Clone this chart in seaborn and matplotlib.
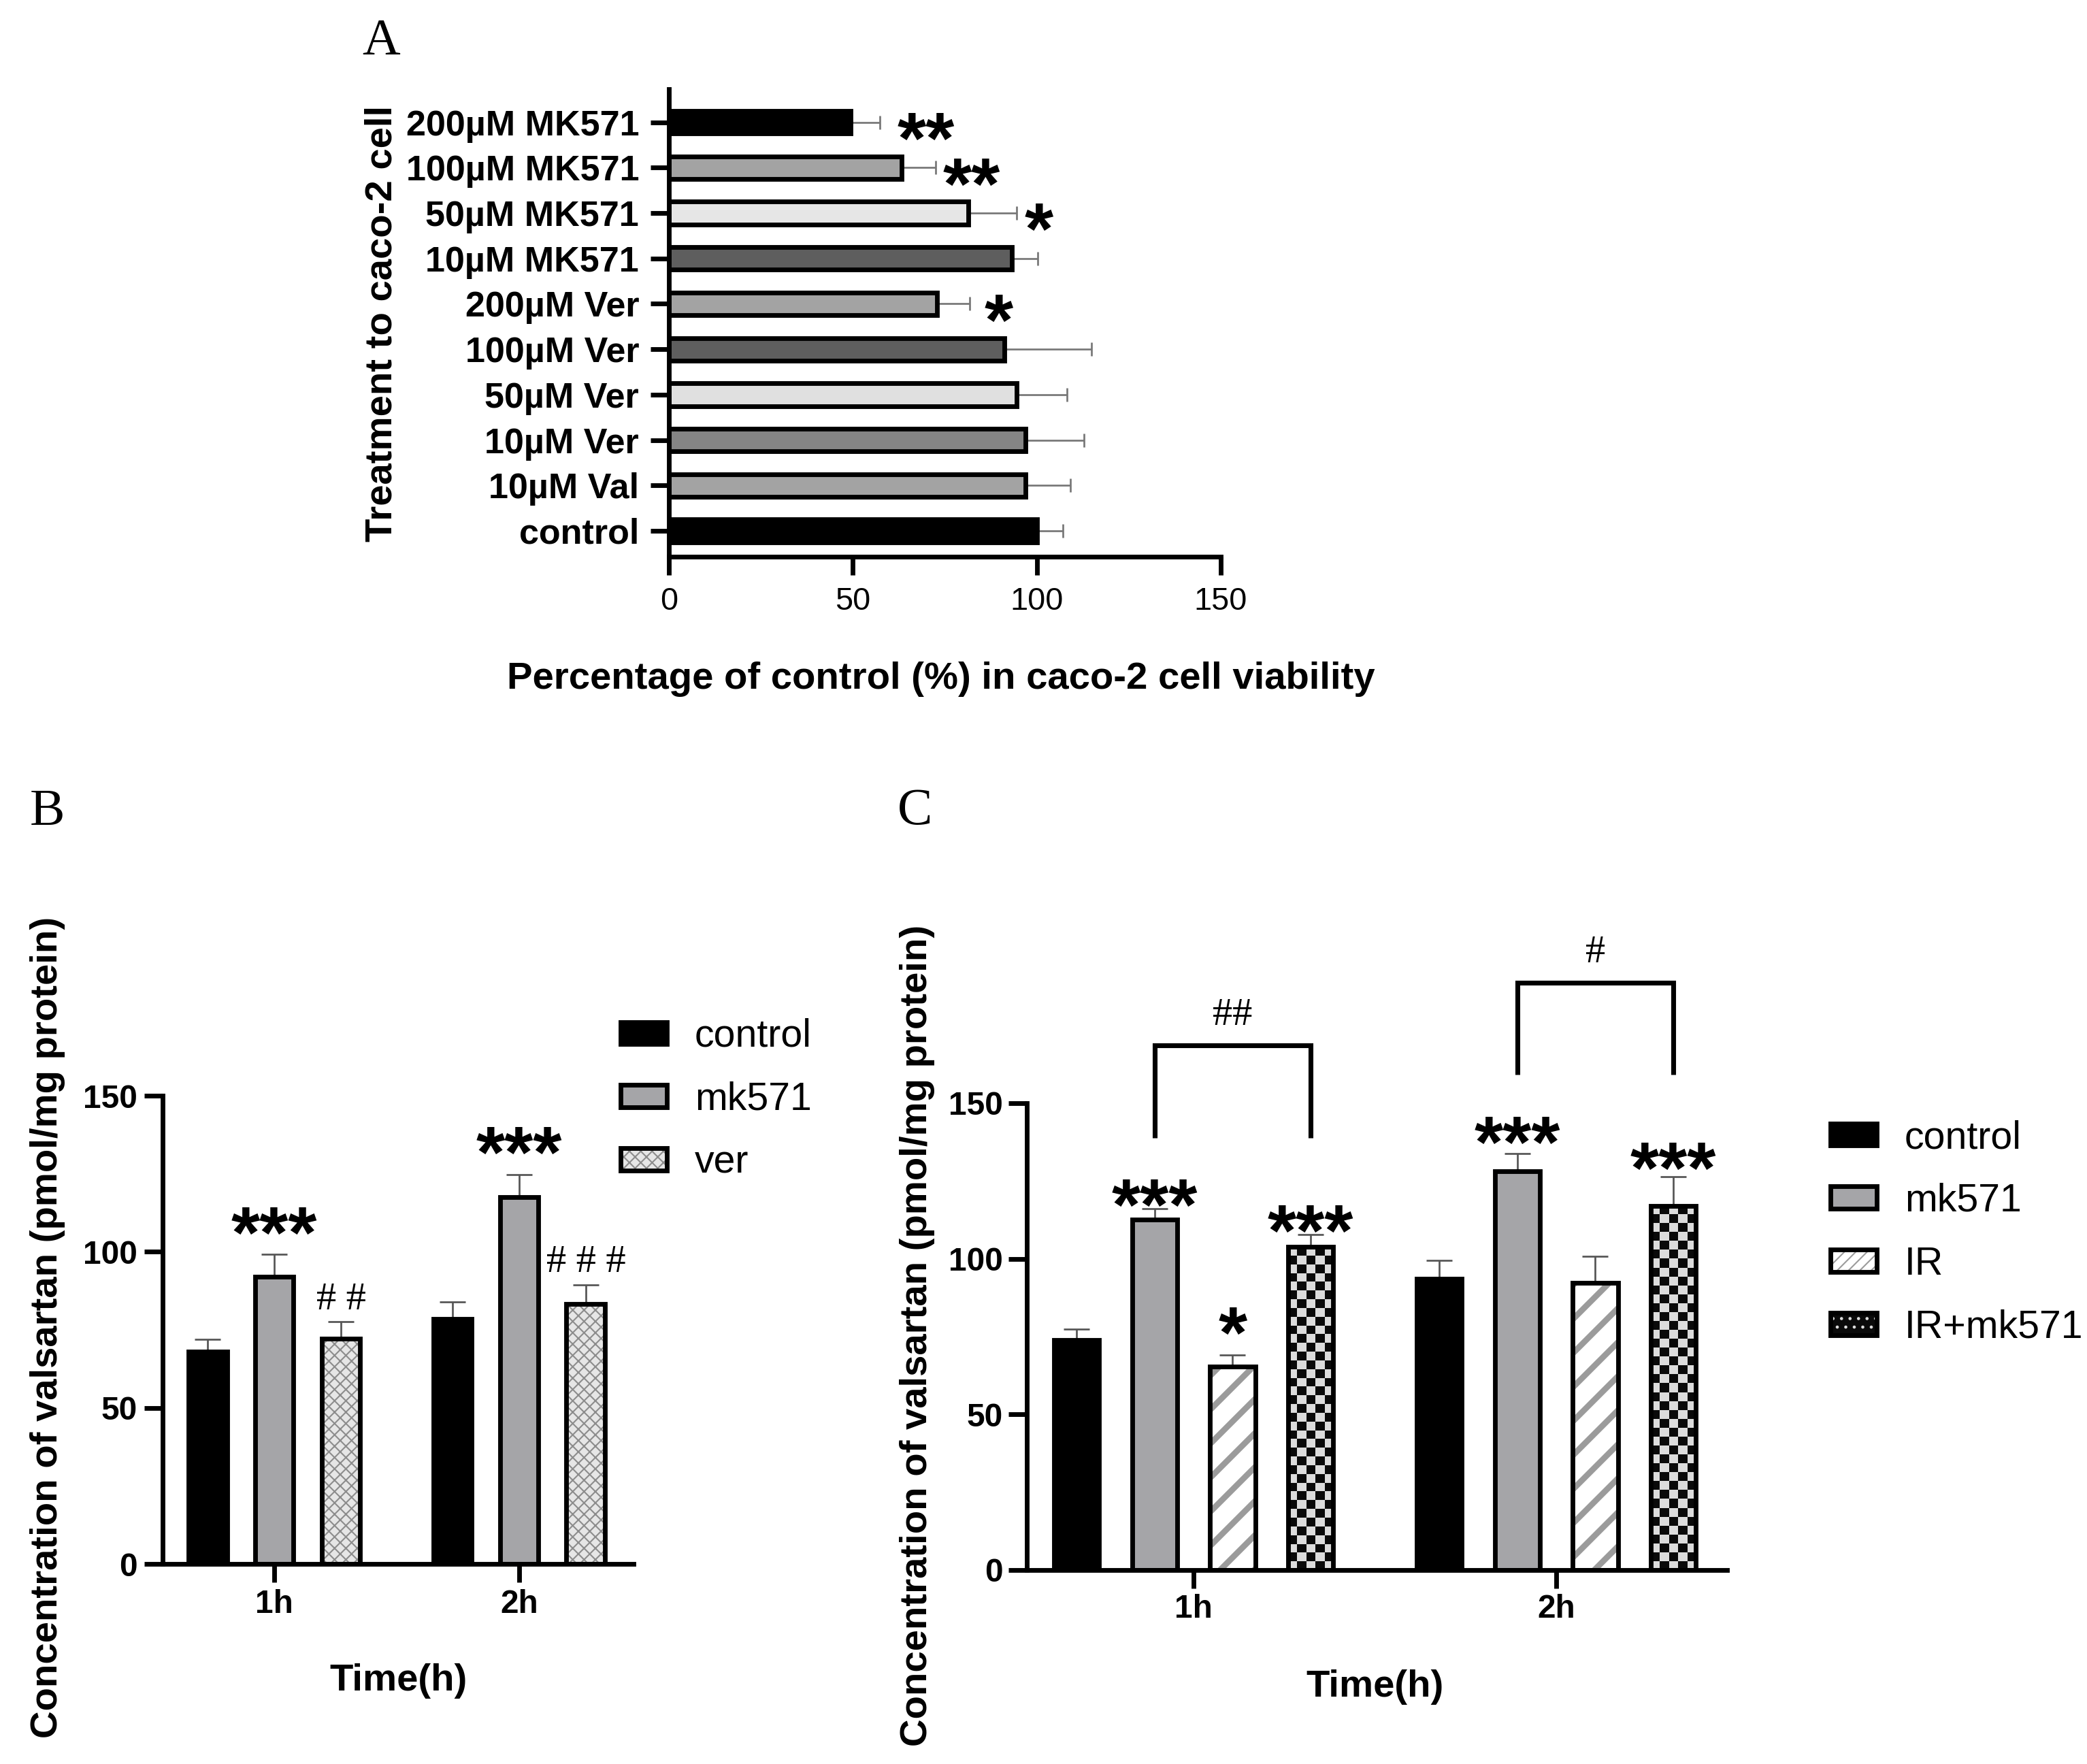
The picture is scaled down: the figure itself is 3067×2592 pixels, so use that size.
import numpy as np
import pandas as pd
import matplotlib
matplotlib.use("Agg")
import matplotlib.pyplot as plt
import seaborn as sns
from matplotlib.patches import Patch
from matplotlib.colors import to_rgba, ListedColormap

# ---------------- data ----------------
# Panel A
a_treatments = ["200µM MK571", "100µM MK571", "50µM MK571", "10µM MK571",
                "200µM Ver", "100µM Ver", "50µM Ver", "10µM Ver", "10µM Val", "control"]
a_values = [49.4, 63.3, 81.3, 93.2, 72.8, 91.2, 94.6, 96.9, 96.9, 100.0]
a_errors = [8.0, 9.2, 13.2, 7.0, 9.0, 23.6, 13.6, 15.9, 12.2, 7.1]
a_colors = ["#000000", "#a3a3a3", "#e6e6e6", "#5e5e5e", "#a3a3a3",
            "#5e5e5e", "#e0e0e0", "#858585", "#a3a3a3", "#000000"]
a_marks = ["**", "**", "*", "", "*", "", "", "", "", ""]
a_mark_x = [69.9, 82.3, 100.6, 0, 89.7, 0, 0, 0, 0, 0]

# Panel B
b_times = ["1h", "2h"]
b_groups = ["control", "mk571", "ver"]
b_control = [68.0, 78.5]
b_mk571 = [92.0, 117.5]
b_ver = [72.2, 83.2]
b_control_err = [4.0, 5.4]
b_mk571_err = [7.3, 7.2]
b_ver_err = [5.4, 6.2]
b_star_mk571 = ["***", "***"]
b_star_mk571_y = [109.9, 135.6]
b_hash_ver = ["# #", "# # #"]
b_hash_ver_y = [85.9, 97.9]

# Panel C
c_times = ["1h", "2h"]
c_groups = ["control", "mk571", "IR", "IR+mk571"]
c_control = [74.0, 93.6]
c_mk571 = [112.6, 128.1]
c_ir = [65.4, 92.3]
c_irmk = [103.8, 117.0]
c_control_err = [3.4, 5.9]
c_mk571_err = [3.6, 5.8]
c_ir_err = [3.8, 8.6]
c_irmk_err = [4.0, 9.3]
c_stars = {"mk571": (["***", "***"], [121.2, 141.4]),
           "IR": (["*", ""], [80.0, 0]),
           "IR+mk571": (["***", "***"], [112.8, 133.0])}
c_bracket_low = [138.8, 159.2]
c_bracket_high = [168.6, 188.7]
c_bracket_text = ["##", "#"]
c_bracket_text_y = [179.5, 199.6]

# ---------------- style ----------------
sns.set_style("ticks")
plt.rcParams["font.family"] = ["Liberation Sans", "DejaVu Sans"]
plt.rcParams["hatch.linewidth"] = 1.0
for k in ("text.color", "axes.labelcolor", "xtick.color", "ytick.color",
          "xtick.labelcolor", "ytick.labelcolor", "axes.edgecolor"):
    plt.rcParams[k] = "black"
SERIF = ["Liberation Serif", "DejaVu Serif"]

W, H, DPI = 3067, 2592, 150
LW = 3.3
FS_LABEL = 27
FS_TICK = 23
FS_LEG = 27.5
FS_PANEL = 37
FS_STAR = 52
FS_HASH = 28
ERRC = "#555555"

fig = plt.figure(figsize=(W / DPI, H / DPI), dpi=DPI)
fig.patch.set_facecolor("white")


def px_axes(x0, x1, ytop, ybot):
    return fig.add_axes([x0 / W, 1 - ybot / H, (x1 - x0) / W, (ybot - ytop) / H])


def style_axes(ax):
    sns.despine(ax=ax)
    for s in ("left", "bottom"):
        ax.spines[s].set_linewidth(LW)
        ax.spines[s].set_color("black")
    ax.tick_params(width=LW, length=13, color="black", labelcolor="black")


def set_hatch_color(p, c):
    if hasattr(p, "set_hatchcolor"):
        p.set_hatchcolor(c)
    else:
        p._hatch_color = to_rgba(c)


def set_hatch_lw(p, lw):
    try:
        p.set_hatch_linewidth(lw)
    except AttributeError:
        p._hatch_linewidth = lw


def mark(ax, x, y, s, kind="star"):
    if not s:
        return
    if kind == "star":
        fs, fam, wt, k = FS_STAR, ["Liberation Sans", "DejaVu Sans"], "bold", 0.50
    else:
        fs, fam, wt, k = FS_HASH, SERIF, "normal", 0.34
    ax.annotate(s, xy=(x, y), xytext=(0, -k * fs), textcoords="offset points",
                ha="center", va="baseline", fontsize=fs, family=fam,
                fontweight=wt, color="black", annotation_clip=False, zorder=5)


# ================= Panel A =================
axA = px_axes(983, 1794, 131, 818)
dfA = pd.DataFrame({"treatment": a_treatments, "value": a_values})
sns.barplot(data=dfA, x="value", y="treatment", order=a_treatments,
            hue="treatment", hue_order=a_treatments,
            palette=dict(zip(a_treatments, a_colors)), legend=False,
            width=0.5, edgecolor="black", linewidth=LW, errorbar=None,
            orient="h", ax=axA)
barsA = list(axA.containers)[:len(a_treatments)]
for cont, err in zip(barsA, a_errors):
    p = cont[0]
    yc = p.get_y() + p.get_height() / 2
    axA.errorbar([p.get_width()], [yc], xerr=[[0], [err]], fmt="none",
                 ecolor="#777777", elinewidth=1.3, capsize=4.8, capthick=1.3,
                 zorder=0.9)
for i, (s, xm) in enumerate(zip(a_marks, a_mark_x)):
    p = barsA[i][0]
    mark(axA, xm, p.get_y() + p.get_height() / 2 + 0.09, s)
axA.set_xlim(0, 150)
axA.set_xticks([0, 50, 100, 150])
axA.set_ylim(9.57, -0.73)
style_axes(axA)
axA.tick_params(axis="y", labelsize=25, pad=8)
axA.tick_params(axis="x", labelsize=22.5, pad=8)
for t in axA.get_yticklabels():
    t.set_fontweight("bold")
axA.set_xlabel("Percentage of control (%) in caco-2 cell viability",
               fontsize=FS_LABEL, fontweight="bold")
axA.set_ylabel("Treatment to caco-2 cell", fontsize=FS_LABEL, fontweight="bold")
axA.xaxis.set_label_coords((1383 - 983) / 811, -(998 - 818) / 687)
axA.xaxis.label.set_va("center")
axA.yaxis.set_label_coords((562 - 983) / 811, (818 - 475) / 687)
axA.yaxis.label.set_va("center")

# ================= Panel B =================
axB = px_axes(239, 931, 1610, 2298)
b_vals = [b_control, b_mk571, b_ver]
b_errs = [b_control_err, b_mk571_err, b_ver_err]
dfB = pd.DataFrame([(t, g, v) for g, vals in zip(b_groups, b_vals)
                    for t, v in zip(b_times, vals)], columns=["time", "group", "value"])
b_pal = {"control": "#000000", "mk571": "#a5a5a8", "ver": "#e6e6e6"}
sns.barplot(data=dfB, x="time", y="value", hue="group", order=b_times,
            hue_order=b_groups, palette=b_pal, width=0.816, gap=0.42,
            edgecolor="black", linewidth=LW, errorbar=None, legend=False, ax=axB)
barsB = list(axB.containers)[:3]
for cont, errs in zip(barsB, b_errs):
    xs = [p.get_x() + p.get_width() / 2 for p in cont]
    ys = [p.get_height() for p in cont]
    axB.errorbar(xs, ys, yerr=[np.zeros(len(errs)), errs], fmt="none",
                 ecolor=ERRC, elinewidth=1.3, capsize=9, capthick=1.3, zorder=0.9)
for p in barsB[2]:
    p.set_hatch("xxx")
    set_hatch_color(p, "#8c8c8c")
    set_hatch_lw(p, 1.0)
for p, s, y in zip(barsB[1], b_star_mk571, b_star_mk571_y):
    mark(axB, p.get_x() + p.get_width() / 2, y, s)
for p, s, y in zip(barsB[2], b_hash_ver, b_hash_ver_y):
    mark(axB, p.get_x() + p.get_width() / 2, y, s, kind="hash")
axB.set_xlim(-0.456, 1.467)
axB.set_ylim(0, 150)
axB.set_yticks([0, 50, 100, 150])
style_axes(axB)
axB.tick_params(labelsize=FS_TICK, pad=5)
for t in axB.get_xticklabels() + axB.get_yticklabels():
    t.set_fontweight("bold")
axB.set_xlabel("Time(h)", fontsize=FS_LABEL, fontweight="bold")
axB.set_ylabel("Concentration of valsartan (pmol/mg protein)",
               fontsize=FS_LABEL, fontweight="bold")
axB.xaxis.set_label_coords(0.501, -(2470 - 2298) / 688)
axB.xaxis.label.set_va("center")
axB.yaxis.set_label_coords((70 - 239) / 692, (2298 - 1950) / 688)
axB.yaxis.label.set_va("center")

# ================= Panel C =================
axC = px_axes(1509, 2538, 1621, 2307)
c_vals = [c_control, c_mk571, c_ir, c_irmk]
c_errs = [c_control_err, c_mk571_err, c_ir_err, c_irmk_err]
dfC = pd.DataFrame([(t, g, v) for g, vals in zip(c_groups, c_vals)
                    for t, v in zip(c_times, vals)], columns=["time", "group", "value"])
c_pal = {"control": "#000000", "mk571": "#a5a5a8", "IR": "#ffffff", "IR+mk571": "#dadada"}
sns.barplot(data=dfC, x="time", y="value", hue="group", order=c_times,
            hue_order=c_groups, palette=c_pal, width=0.86, gap=0.42,
            edgecolor="black", linewidth=LW, errorbar=None, legend=False, ax=axC)
barsC = list(axC.containers)[:4]
for cont, errs in zip(barsC, c_errs):
    xs = [p.get_x() + p.get_width() / 2 for p in cont]
    ys = [p.get_height() for p in cont]
    axC.errorbar(xs, ys, yerr=[np.zeros(len(errs)), errs], fmt="none",
                 ecolor=ERRC, elinewidth=1.3, capsize=9, capthick=1.3, zorder=0.9)
for p in barsC[2]:
    p.set_hatch("/")
    set_hatch_color(p, "#9b9b9b")
    set_hatch_lw(p, 4.2)
axC.set_xlim(-0.46, 1.471)
axC.set_ylim(0, 150)
# checkerboard fill for IR+mk571 bars
checker_cmap = ListedColormap(["#dcdcdc", "#0a0a0a"])
cell_px = 13.0
for p in barsC[3]:
    x0, w, h = p.get_x(), p.get_width(), p.get_height()
    (px0, py0) = axC.transData.transform((x0, 0))
    (px1, py1) = axC.transData.transform((x0 + w, h))
    nx = max(1, int(round((px1 - px0) / cell_px)))
    ny = max(1, int(round((py1 - py0) / cell_px)))
    arr = np.add.outer(np.arange(ny), np.arange(nx)) % 2
    im = axC.imshow(arr, extent=(x0, x0 + w, 0, h), origin="lower",
                    cmap=checker_cmap, interpolation="nearest", aspect="auto",
                    zorder=0.95)
    im.set_clip_path(p)
    p.set_facecolor("none")
axC.set_xlim(-0.46, 1.471)
axC.set_ylim(0, 150)
axC.set_yticks([0, 50, 100, 150])
for gi, g in enumerate(c_groups):
    if g in c_stars:
        texts, ys = c_stars[g]
        for p, s, y in zip(barsC[gi], texts, ys):
            mark(axC, p.get_x() + p.get_width() / 2, y, s)
for ti in range(len(c_times)):
    pa, pb = barsC[1][ti], barsC[3][ti]
    xa = pa.get_x() + pa.get_width() / 2
    xb = pb.get_x() + pb.get_width() / 2
    lo, hi = c_bracket_low[ti], c_bracket_high[ti]
    axC.plot([xa, xa, xb, xb], [lo, hi, hi, lo], color="black", lw=3.4,
             clip_on=False, solid_joinstyle="miter", solid_capstyle="butt")
    mark(axC, (xa + xb) / 2, c_bracket_text_y[ti], c_bracket_text[ti], kind="hash")
style_axes(axC)
axC.tick_params(labelsize=FS_TICK, pad=4)
for t in axC.get_xticklabels() + axC.get_yticklabels():
    t.set_fontweight("bold")
axC.set_xlabel("Time(h)", fontsize=FS_LABEL, fontweight="bold")
axC.set_ylabel("Concentration of valsartan (pmol/mg protein)",
               fontsize=FS_LABEL, fontweight="bold")
axC.xaxis.set_label_coords((2021 - 1509) / 1029, -(2479 - 2307) / 686)
axC.xaxis.label.set_va("center")
axC.yaxis.set_label_coords((1348 - 1509) / 1029, (2307 - 1962) / 686)
axC.yaxis.label.set_va("center")

# ================= Legends =================
def make_handle(fc, hatch=None, hc=None, hlw=1.0):
    h = Patch(facecolor=fc, edgecolor="black", linewidth=LW, hatch=hatch)
    if hatch:
        set_hatch_color(h, hc)
        set_hatch_lw(h, hlw)
    return h


leg_kw = dict(loc="upper left", frameon=False, fontsize=FS_LEG, handlelength=1.18,
              handleheight=0.49, handletextpad=0.72, labelspacing=0.68,
              borderpad=0, borderaxespad=0)
hB = [make_handle("#000000"), make_handle("#a5a5a8"),
      make_handle("#e6e6e6", "xxx", "#8c8c8c", 1.0)]
legB = fig.legend(hB, b_groups, bbox_to_anchor=(912 / W, 1 - 1496 / H), **leg_kw)
hC = [make_handle("#000000"), make_handle("#a5a5a8"),
      make_handle("#ffffff", "///", "#9b9b9b", 2.5),
      make_handle("#0a0a0a", "..", "#dcdcdc", 2.0)]
legC = fig.legend(hC, c_groups, bbox_to_anchor=(2690 / W, 1 - 1645 / H), **leg_kw)
for leg, hs in ((legB, hB), (legC, hC)):
    for lp, h in zip(leg.get_patches(), hs):
        if h.get_hatch():
            set_hatch_color(lp, h._hatch_color)
    for t in leg.get_texts():
        t.set_color("black")

# ================= Panel letters =================
for letter, (x, y) in zip("ABC", [(560, 62), (70, 1194), (1345, 1192)]):
    fig.text(x / W, 1 - y / H, letter, ha="center", va="center",
             fontsize=FS_PANEL, family=SERIF, color="black")

fig.savefig("out.png", dpi=DPI, facecolor="white")
